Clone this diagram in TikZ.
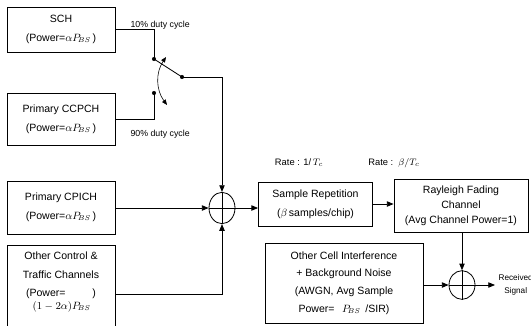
\documentclass[tikz,border=0pt]{standalone}
\usepackage{fontspec}
\setmainfont{Liberation Sans}
\usetikzlibrary{arrows.meta,shapes.geometric}

\begin{document}
\begin{tikzpicture}[
    x=0.03cm, y=-0.03cm,
    line width=0.7pt,
    box/.style={draw, align=center, font=\fontsize{9}{16}\selectfont, inner sep=1pt},
    sum/.style={draw, ellipse, minimum width=0.78cm, minimum height=0.94cm, inner sep=0pt},
    note/.style={font=\fontsize{7.5}{9}\selectfont, inner sep=1pt},
    dot/.style={circle, fill, inner sep=0pt, minimum size=3.5pt},
    link/.style={-{Triangle[length=2mm, width=1.6mm]}}
]
\useasboundingbox (0,0) rectangle (531,325);

% sources
\node[box, minimum width=3.24cm, minimum height=1.35cm] (sch) at (61,29.5) {SCH\\(Power=$\alpha P_{\!BS}$\,)};
\node[box, minimum width=3.24cm, minimum height=1.56cm] (ccpch) at (61,119) {Primary CCPCH\\(Power=$\alpha P_{\!BS}$\,)};
\node[box, minimum width=3.24cm, minimum height=1.59cm] (cpich) at (61,207.5) {Primary CPICH\\(Power=$\alpha P_{\!BS}$\,)};
\node[box, minimum width=3.24cm, minimum height=2.55cm] (other) at (61,287.5) {};
\node[align=center, font=\fontsize{9}{16}\selectfont] (othertxt) at (61,282) {Other Control \&\\Traffic Channels\\(Power=\makebox[0.75cm][r]{\raisebox{-2.3ex}{$(1-2\alpha)P_{\!BS}$}}\,)};

% switch
\coordinate (pivot) at (154,59);
\coordinate (contact) at (154,93);
\coordinate (swout) at (182,77);
\node[dot] (pivotdot) at (pivot) {};
\node[dot] (contactdot) at (contact) {};
\node[dot] (swoutdot) at (swout) {};
\draw (sch.east) -| (pivot);
\draw (ccpch.east) -| (contact);
\draw (pivot) -- (swout);
\draw[{Triangle[length=1.6mm, width=1.3mm]}-{Triangle[length=1.6mm, width=1.3mm]}, line width=0.5pt] (166,57) to[bend right=35] (167,105);
\node[note, anchor=west] (duty1) at (129,25) {10\% duty cycle};
\node[note, anchor=west] (duty2) at (129,134) {90\% duty cycle};

% first adder
\node[sum] (sum1) at (222,208) {};
\draw (sum1.north) -- (sum1.south) (sum1.west) -- (sum1.east);
\draw[link] (swout) -| (sum1.north);
\draw[link] (cpich.east |- sum1.west) -- (sum1.west);
\draw[link] ([yshift=-0.2cm]other.east) -| (sum1.south);

% channel
\node[box, minimum width=3.42cm, minimum height=1.32cm] (sample) at (315.5,204) {Sample Repetition\\($\beta$\,samples/chip)};
\node[box, minimum width=4.02cm, minimum height=1.6cm] (fading) at (461,206) {Rayleigh Fading\\[-3pt]Channel\\[-3pt](Avg Channel Power=1)};
\node[note, font=\fontsize{8}{9}\selectfont] (rate1) at (299,163) {Rate : 1/\,$T_c$};
\node[note, font=\fontsize{8}{9}\selectfont] (rate2) at (394,163) {Rate :\, $\beta/T_c$};
\draw[link] (sum1.east) -- (sample.west |- sum1.east);
\draw[link] (sample.east) -- (sample.east -| fading.west);

% noise and second adder
\node[box, minimum width=4.74cm, minimum height=2.4cm, font=\fontsize{9}{15}\selectfont] (noise) at (344,283) {Other Cell Interference\\+ Background Noise\\(AWGN, Avg Sample\\Power= \, $P_{\!BS}$\, /SIR)};
\node[sum, minimum width=0.78cm, minimum height=0.86cm] (sum2) at (462,285) {};
\draw (sum2.north) -- (sum2.south) (sum2.west) -- (sum2.east);
\draw[link] (fading.south -| sum2.north) -- (sum2.north);
\draw[link] (noise.east |- sum2.west) -- (sum2.west);
\coordinate (rx) at (495,285);
\draw[link] (sum2.east) -- (rx);
\node[note, align=center, font=\fontsize{7}{11}\selectfont, anchor=west] (rxtxt) at (497,285) {Received\\Signal};
\end{tikzpicture}
\end{document}
